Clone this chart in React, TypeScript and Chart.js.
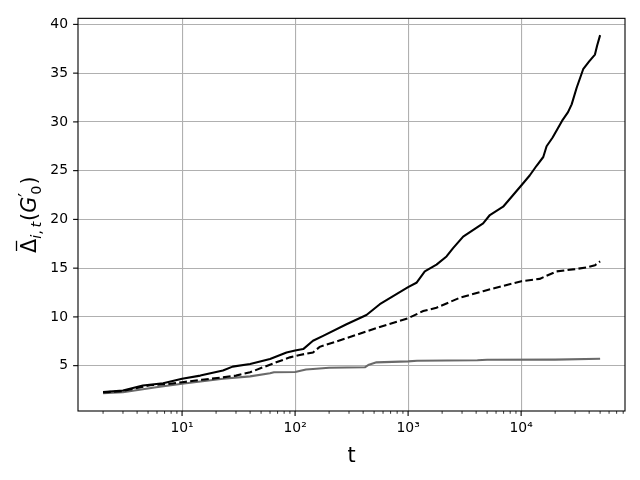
import React, { useEffect, useRef } from "react";
import { Chart, registerables } from "chart.js";

Chart.register(...registerables);

// ---- data ----
const solidT = [2, 3, 4.5, 6.8, 10, 14.5, 23, 28, 40, 60, 84, 100, 118, 144, 177, 285, 428, 562, 737, 1000, 1185, 1405, 1783, 2187, 2500, 3070, 4610, 5290, 6930, 8500, 10070, 11900, 13700, 15700, 16800, 19000, 23000, 26000, 28000, 31000, 35400, 40000, 45000, 47000, 50000];
const solidV = [2.3, 2.45, 2.96, 3.2, 3.65, 3.98, 4.5, 4.9, 5.17, 5.68, 6.35, 6.55, 6.7, 7.55, 8.06, 9.25, 10.2, 11.3, 12.13, 13.05, 13.5, 14.67, 15.36, 16.2, 17.05, 18.24, 19.6, 20.45, 21.3, 22.5, 23.5, 24.5, 25.5, 26.4, 27.5, 28.4, 30.1, 31.0, 31.8, 33.5, 35.4, 36.2, 36.9, 37.8, 38.9];

const dashT = [2, 3, 5.2, 7.3, 10, 15, 23, 30, 40, 52, 68, 90, 110, 144, 165, 285, 562, 1000, 1360, 1783, 2860, 4610, 10070, 14600, 20600, 30000, 37900, 45000, 50000];
const dashV = [2.25, 2.4, 3.0, 3.1, 3.3, 3.55, 3.8, 3.98, 4.32, 4.83, 5.34, 5.85, 6.1, 6.35, 6.93, 7.82, 8.97, 9.86, 10.6, 10.94, 11.96, 12.64, 13.66, 13.9, 14.67, 14.9, 15.08, 15.3, 15.7];

const grayT = [2, 3, 5.9, 10, 23, 40, 60, 65, 100, 125, 144, 200, 414, 450, 525, 1000, 1200, 4100, 5000, 20000, 50000];
const grayV = [2.18, 2.27, 2.79, 3.14, 3.65, 3.9, 4.22, 4.32, 4.35, 4.6, 4.66, 4.78, 4.83, 5.1, 5.34, 5.44, 5.5, 5.55, 5.6, 5.62, 5.71];

const xMajorTicks = [10, 100, 1000, 10000];
const xTickLabels = ["10¹", "10²", "10³", "10⁴"];
const yTicks = [5, 10, 15, 20, 25, 30, 35, 40];
const xLabel = "t";

const X_MIN = 1.2;
const X_MAX = 83000;
const Y_MIN = 0.35;
const Y_MAX = 40.62;

const toPoints = (t: number[], v: number[]) => t.map((x, i) => ({ x, y: v[i] }));

const isPow10 = (v: number) => Math.abs(Math.log10(v) - Math.round(Math.log10(v))) < 1e-9;

function allXTicks(): number[] {
  const out: number[] = [];
  for (let k = 0; k <= 4; k++) {
    for (let m = 1; m <= 9; m++) {
      const v = m * Math.pow(10, k);
      if (v >= X_MIN && v <= X_MAX) out.push(v);
    }
  }
  return out;
}

function drawYLabel(ctx: CanvasRenderingContext2D, cx: number, cy: number) {
  const F = 20.8;
  const S = F * 0.7;
  const fam = "'DejaVu Sans', sans-serif";
  const up = (s: number) => `${s}px ${fam}`;
  const it = (s: number) => `italic ${s}px ${fam}`;
  type P = { t: string; font: string; dy: number; stack?: { t: string; font: string; dy: number; dx: number } };
  const subDy = 4.5;
  const parts: P[] = [
    { t: "Δ", font: up(F), dy: 0 },
    { t: "i", font: it(S), dy: subDy },
    { t: ",", font: up(S), dy: subDy },
    { t: "t", font: it(S), dy: subDy },
    { t: "(", font: up(F), dy: 0 },
    { t: "G", font: it(F), dy: 0 },
    { t: "′", font: up(F * 0.85), dy: -5, stack: { t: "0", font: up(S), dy: subDy, dx: 2 } },
    { t: ")", font: up(F), dy: 0 },
  ];
  const widths = parts.map((p) => {
    ctx.font = p.font;
    let w = ctx.measureText(p.t).width;
    if (p.stack) {
      ctx.font = p.stack.font;
      w = Math.max(w + 1, ctx.measureText(p.stack.t).width + p.stack.dx + 1);
    }
    return w;
  });
  const gaps = [0, 0, 0, 2.5, 1, 0, 0, 0];
  const total = widths.reduce((a, b) => a + b, 0) + gaps.reduce((a, b) => a + b, 0);
  ctx.save();
  ctx.translate(cx, cy);
  ctx.rotate(-Math.PI / 2);
  ctx.fillStyle = "#000";
  ctx.textBaseline = "alphabetic";
  ctx.textAlign = "left";
  let x = -total / 2;
  parts.forEach((p, i) => {
    x += gaps[i];
    ctx.font = p.font;
    ctx.fillText(p.t, x, p.dy);
    if (i === 0) {
      ctx.strokeStyle = "#000";
      ctx.lineWidth = 1.3;
      ctx.beginPath();
      ctx.moveTo(x + 2, -19.5);
      ctx.lineTo(x + widths[0] - 2, -19.5);
      ctx.stroke();
    }
    if (p.stack) {
      ctx.font = p.stack.font;
      ctx.fillText(p.stack.t, x + p.stack.dx, p.stack.dy);
    }
    x += widths[i];
  });
  ctx.restore();
}

const decorPlugin = {
  id: "decor",
  afterDraw(chart: any) {
    const ctx: CanvasRenderingContext2D = chart.ctx;
    const { left, right, top, bottom } = chart.chartArea;
    const xs = chart.scales.x;
    const ys = chart.scales.y;
    ctx.save();
    ctx.strokeStyle = "#000";
    for (const v of allXTicks()) {
      const px = xs.getPixelForValue(v);
      const major = isPow10(v);
      ctx.lineWidth = major ? 1.1 : 0.8;
      ctx.beginPath();
      ctx.moveTo(px, bottom);
      ctx.lineTo(px, bottom + (major ? 4.9 : 2.8));
      ctx.stroke();
    }
    for (const v of yTicks) {
      const py = ys.getPixelForValue(v);
      ctx.lineWidth = 1.1;
      ctx.beginPath();
      ctx.moveTo(left, py);
      ctx.lineTo(left - 4.9, py);
      ctx.stroke();
    }
    ctx.lineWidth = 1.1;
    ctx.strokeRect(left, top, right - left, bottom - top);
    ctx.fillStyle = "#000";
    ctx.font = "20.8px 'DejaVu Sans', sans-serif";
    ctx.textAlign = "center";
    ctx.textBaseline = "alphabetic";
    ctx.fillText(xLabel, (left + right) / 2, 461.5);
    ctx.restore();
    drawYLabel(ctx, 36, (top + bottom) / 2);
  },
};

export default function App() {
  const ref = useRef<HTMLCanvasElement | null>(null);
  useEffect(() => {
    document.body.style.margin = "0";
    const canvas = ref.current!;
    const tickFont = { family: "'DejaVu Sans', sans-serif", size: 13.9 };
    const chart = new Chart(canvas, {
      type: "line",
      data: {
        datasets: [
          {
            label: "solid",
            data: toPoints(solidT, solidV),
            borderColor: "#000000",
            borderWidth: 2.08,
            pointRadius: 0,
            tension: 0,
            fill: false,
            borderJoinStyle: "round",
          },
          {
            label: "dashed",
            data: toPoints(dashT, dashV),
            borderColor: "#000000",
            borderWidth: 2.08,
            borderDash: [7.7, 3.3],
            pointRadius: 0,
            tension: 0,
            fill: false,
          },
          {
            label: "gray",
            data: toPoints(grayT, grayV),
            borderColor: "#6a6a6a",
            borderWidth: 2.08,
            pointRadius: 0,
            tension: 0,
            fill: false,
            borderJoinStyle: "round",
          },
        ],
      },
      options: {
        responsive: false,
        animation: false,
        layout: { padding: { top: 15, right: 15, left: 0, bottom: 0 } },
        plugins: { legend: { display: false }, tooltip: { enabled: false } },
        scales: {
          x: {
            type: "logarithmic",
            min: X_MIN,
            max: X_MAX,
            afterBuildTicks: (scale: any) => {
              scale.ticks = xMajorTicks.map((v) => ({ value: v }));
            },
            afterFit: (scale: any) => {
              scale.height = 69;
            },
            ticks: {
              autoSkip: false,
              maxRotation: 0,
              color: "#000",
              font: tickFont,
              padding: 9,
              callback: (value: any) => {
                const i = xMajorTicks.indexOf(Number(value));
                return i >= 0 ? xTickLabels[i] : "";
              },
            },
            grid: { color: "#b0b0b0", lineWidth: 1.1, drawTicks: false },
            border: { display: false },
          },
          y: {
            type: "linear",
            min: Y_MIN,
            max: Y_MAX,
            afterBuildTicks: (scale: any) => {
              scale.ticks = yTicks.map((v) => ({ value: v }));
            },
            afterFit: (scale: any) => {
              scale.width = 78;
            },
            ticks: {
              color: "#000",
              font: tickFont,
              padding: 10,
              callback: (value: any) => String(value),
            },
            grid: { color: "#b0b0b0", lineWidth: 1.1, drawTicks: false },
            border: { display: false },
          },
        },
      },
      plugins: [decorPlugin],
    } as any);
    return () => chart.destroy();
  }, []);
  return (
    <div style={{ position: "absolute", left: 0, top: 0, width: 640, height: 480, background: "#fff" }}>
      <canvas ref={ref} width={640} height={480} style={{ width: 640, height: 480 }} />
    </div>
  );
}
